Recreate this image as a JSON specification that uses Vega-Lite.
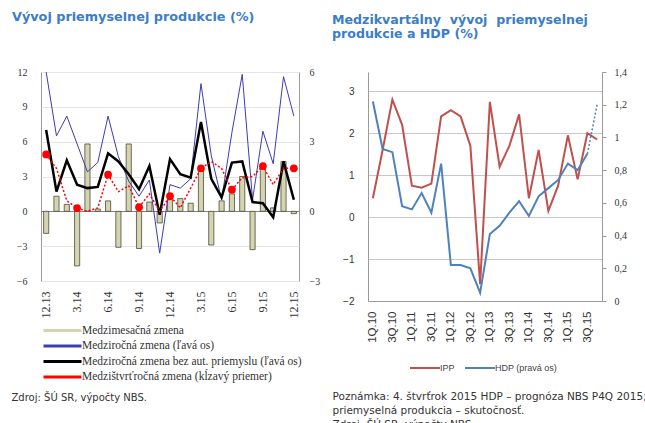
{
  "$schema": "https://vega.github.io/schema/vega-lite/v6.json",
  "padding": {"left": 10, "top": 10, "right": 0, "bottom": 0},
  "background": "white",
  "spacing": 11,
  "config": {"view": {"stroke": null}, "axis": {"labelFont": "Liberation Serif", "labelColor": "#333333", "domainColor": "#9a9a9a"}},
  "resolve": {"scale": {"color": "independent"}, "legend": {"color": "independent"}},
  "hconcat": [
    {
      "width": 258,
      "height": 209,
      "view": {"stroke": "#9a9a9a"},
      "title": {"text": "Vývoj priemyselnej produkcie (%)", "anchor": "start", "frame": "group", "dx": -29, "offset": 43, "font": "DejaVu Sans", "fontSize": 12.8, "fontWeight": "bold", "color": "#3a7dc9"},
      "data": {"values": [
        {"m": "12.13", "mom": -0.95, "yoy": 12.0, "yoyx": 7.0, "qoq": 2.45},
        {"m": "1.14", "mom": 0.65, "yoy": 6.5, "yoyx": 1.7, "qoq": 1.85},
        {"m": "2.14", "mom": 0.3, "yoy": 8.2, "yoyx": 4.4, "qoq": 0.45},
        {"m": "3.14", "mom": -2.35, "yoy": 5.8, "yoyx": 2.3, "qoq": 0.14},
        {"m": "4.14", "mom": 2.9, "yoy": 3.4, "yoyx": 2.0, "qoq": 0.0},
        {"m": "5.14", "mom": 0.1, "yoy": 4.2, "yoyx": 2.1, "qoq": 0.15},
        {"m": "6.14", "mom": 0.45, "yoy": 8.2, "yoyx": 5.0, "qoq": 1.58},
        {"m": "7.14", "mom": -1.55, "yoy": 4.7, "yoyx": 4.3, "qoq": 0.85},
        {"m": "8.14", "mom": 2.9, "yoy": 2.6, "yoyx": 3.2, "qoq": 1.1},
        {"m": "9.14", "mom": -1.6, "yoy": 1.3, "yoyx": 1.9, "qoq": 0.18},
        {"m": "10.14", "mom": 0.4, "yoy": 2.7, "yoyx": 3.9, "qoq": 0.75},
        {"m": "11.14", "mom": -0.5, "yoy": -3.6, "yoyx": -0.3, "qoq": 0.0},
        {"m": "12.14", "mom": 0.5, "yoy": 2.3, "yoyx": 4.5, "qoq": 0.65},
        {"m": "1.15", "mom": 0.55, "yoy": 2.0, "yoyx": 3.2, "qoq": 0.15},
        {"m": "2.15", "mom": 0.35, "yoy": 2.8, "yoyx": 2.9, "qoq": 1.0},
        {"m": "3.15", "mom": 1.8, "yoy": 11.0, "yoyx": 7.7, "qoq": 1.85},
        {"m": "4.15", "mom": -1.45, "yoy": 4.8, "yoyx": 2.8, "qoq": 2.15},
        {"m": "5.15", "mom": 0.45, "yoy": 1.0, "yoyx": 1.2, "qoq": 1.85},
        {"m": "6.15", "mom": 0.75, "yoy": 6.8, "yoyx": 4.2, "qoq": 0.93},
        {"m": "7.15", "mom": 1.5, "yoy": 11.8, "yoyx": 4.3, "qoq": 1.45},
        {"m": "8.15", "mom": -1.65, "yoy": 1.0, "yoyx": 0.8, "qoq": 1.5},
        {"m": "9.15", "mom": 1.85, "yoy": 6.9, "yoyx": 0.7, "qoq": 1.95},
        {"m": "10.15", "mom": 0.15, "yoy": 4.1, "yoyx": -0.5, "qoq": 1.15},
        {"m": "11.15", "mom": 2.15, "yoy": 11.6, "yoyx": 4.3, "qoq": 1.85},
        {"m": "12.15", "mom": -0.1, "yoy": 8.2, "yoyx": 1.0, "qoq": 1.85}
      ]},
      "layer": [
        {
          "mark": {"type": "bar", "width": {"band": 0.5}, "stroke": "#4b4b3c", "strokeWidth": 0.8, "color": "#d4d4b0"},
          "encoding": {
            "x": {"field": "m", "type": "ordinal", "sort": null, "scale": {"paddingInner": 0, "paddingOuter": 0},
              "axis": {"values": ["12.13", "3.14", "6.14", "9.14", "12.14", "3.15", "6.15", "9.15", "12.15"], "labelAngle": -90, "labelFontSize": 12, "labelPadding": 10, "ticks": false, "domain": false,
                "title": "Zdroj: ŠÚ SR, výpočty NBS.", "titleX": -30, "titleY": 116, "titleAlign": "left", "titleBaseline": "middle", "titleFont": "DejaVu Sans", "titleFontSize": 10, "titleFontWeight": "normal", "titleColor": "#333333"}},
            "y": {"field": "mom", "type": "quantitative", "scale": {"domain": [-3, 6], "nice": false},
              "axis": {"orient": "right", "values": [-3, 0, 3, 6], "grid": false, "ticks": false, "domain": false, "labelFontSize": 10, "labelPadding": 10, "title": null}}
          }
        },
        {
          "mark": {"type": "line", "strokeWidth": 1, "color": "#3c3cb4"},
          "encoding": {
            "x": {"field": "m", "type": "ordinal", "sort": null},
            "y": {"field": "yoy", "type": "quantitative", "scale": {"domain": [-6, 12], "nice": false},
              "axis": {"orient": "left", "values": [-6, -3, 0, 3, 6, 9, 12], "grid": true, "gridColor": {"condition": {"test": "datum.value === 0", "value": "#808080"}, "value": "#e6e6e6"}, "ticks": false, "domain": false, "labelFontSize": 10, "labelPadding": 14, "title": null}}
          }
        },
        {
          "mark": {"type": "line", "strokeWidth": 2.5, "color": "#000000"},
          "encoding": {
            "x": {"field": "m", "type": "ordinal", "sort": null},
            "y": {"field": "yoyx", "type": "quantitative", "scale": {"domain": [-6, 12], "nice": false}, "axis": null}
          }
        },
        {
          "mark": {"type": "line", "strokeWidth": 1.5, "strokeDash": [2, 2], "color": "#ff0000"},
          "encoding": {
            "x": {"field": "m", "type": "ordinal", "sort": null},
            "y": {"field": "qoq", "type": "quantitative", "scale": {"domain": [-3, 6], "nice": false}, "axis": null}
          }
        },
        {
          "transform": [{"filter": {"field": "m", "oneOf": ["12.13", "3.14", "6.14", "9.14", "12.14", "3.15", "6.15", "9.15", "12.15"]}}],
          "mark": {"type": "point", "filled": true, "size": 60, "opacity": 1, "color": "#ff0000"},
          "encoding": {
            "x": {"field": "m", "type": "ordinal", "sort": null},
            "y": {"field": "qoq", "type": "quantitative", "scale": {"domain": [-3, 6], "nice": false}, "axis": null}
          }
        },
        {
          "transform": [{"fold": ["mom", "yoy", "yoyx", "qoq"], "as": ["s", "v"]}],
          "mark": {"type": "line", "opacity": 0},
          "encoding": {
            "x": {"field": "m", "type": "ordinal", "sort": null},
            "y": {"field": "v", "type": "quantitative", "scale": {"domain": [-6, 12], "nice": false}, "axis": null},
            "color": {"field": "s", "type": "nominal",
              "scale": {"domain": ["mom", "yoy", "yoyx", "qoq"], "range": ["#d4d4b0", "#3c3cb4", "#000000", "#ff0000"]},
              "legend": {"orient": "none", "legendX": 1, "legendY": 252, "direction": "vertical", "title": null, "symbolSize": 100, "symbolOffset": 14, "labelOffset": 13, "rowPadding": 2.5,
                "labelFont": "Liberation Serif", "labelFontSize": 11.5, "labelColor": "#333333", "labelLimit": 400,
                "labelExpr": "datum.value === 'mom' ? 'Medzimesačná zmena' : datum.value === 'yoy' ? 'Medziročná zmena (ľavá os)' : datum.value === 'yoyx' ? 'Medziročná zmena bez aut. priemyslu (ľavá os)' : 'Medzištvrťročná zmena (kĺzavý priemer)'",
                "encode": {"symbols": {"update": {
                  "shape": {"condition": [{"test": "datum.value === 'mom'", "value": "M-3.8,-0.55H3.8V0.55H-3.8Z"}, {"test": "datum.value === 'qoq'", "value": "M-3.8,0H3.8M-0.6,0A0.6,0.6 0 1,0 0.6,0A0.6,0.6 0 1,0 -0.6,0"}], "value": "M-3.8,0H3.8"},
                  "fill": {"condition": [{"test": "datum.value === 'mom'", "value": "#e6e6c8"}, {"test": "datum.value === 'qoq'", "value": "#ff0000"}], "value": "transparent"},
                  "stroke": {"condition": [{"test": "datum.value === 'mom'", "value": "#4b4b3c"}, {"test": "datum.value === 'yoy'", "value": "#6a6ad0"}, {"test": "datum.value === 'qoq'", "value": "#ff0000"}], "value": "#000000"},
                  "strokeWidth": {"condition": [{"test": "datum.value === 'mom'", "value": 1.2}, {"test": "datum.value === 'yoy'", "value": 1.2}, {"test": "datum.value === 'qoq'", "value": 1.5}], "value": 3},
                  "strokeDash": {"condition": [{"test": "datum.value === 'qoq'", "value": [2, 2]}], "value": [1, 0]},
                  "opacity": {"value": 1}
                }}}}}
          }
        }
      ],
      "resolve": {"scale": {"y": "independent"}}
    },
    {
      "width": 234,
      "height": 229,
      "title": {"text": ["Medzikvartálny\u00a0\u00a0vývoj\u00a0\u00a0priemyselnej", "produkcie a HDP (%)"], "anchor": "start", "frame": "group", "dx": -36, "offset": 26, "lineHeight": 14, "font": "DejaVu Sans", "fontSize": 12.6, "fontWeight": "bold", "color": "#3a7dc9"},
      "data": {"values": [
        {"q": "1Q.10", "ipp": 0.45, "hdp": 1.22},
        {"q": "2Q.10", "ipp": 1.6, "hdp": 0.93},
        {"q": "3Q.10", "ipp": 2.8, "hdp": 0.91},
        {"q": "4Q.10", "ipp": 2.2, "hdp": 0.58},
        {"q": "1Q.11", "ipp": 0.75, "hdp": 0.56},
        {"q": "2Q.11", "ipp": 0.7, "hdp": 0.66},
        {"q": "3Q.11", "ipp": 0.8, "hdp": 0.54},
        {"q": "4Q.11", "ipp": 2.4, "hdp": 0.84},
        {"q": "1Q.12", "ipp": 2.55, "hdp": 0.22},
        {"q": "2Q.12", "ipp": 2.4, "hdp": 0.22},
        {"q": "3Q.12", "ipp": 1.7, "hdp": 0.2},
        {"q": "4Q.12", "ipp": -1.6, "hdp": 0.05},
        {"q": "1Q.13", "ipp": 2.75, "hdp": 0.41},
        {"q": "2Q.13", "ipp": 1.2, "hdp": 0.46},
        {"q": "3Q.13", "ipp": 1.7, "hdp": 0.54},
        {"q": "4Q.13", "ipp": 2.45, "hdp": 0.61},
        {"q": "1Q.14", "ipp": 0.45, "hdp": 0.52},
        {"q": "2Q.14", "ipp": 1.6, "hdp": 0.64},
        {"q": "3Q.14", "ipp": 0.15, "hdp": 0.69},
        {"q": "4Q.14", "ipp": 0.75, "hdp": 0.74},
        {"q": "1Q.15", "ipp": 1.95, "hdp": 0.84},
        {"q": "2Q.15", "ipp": 0.9, "hdp": 0.8},
        {"q": "3Q.15", "ipp": 2.0, "hdp": 0.9, "hdpf": 0.9},
        {"q": "4Q.15", "ipp": 1.85, "hdp": null, "hdpf": 1.2}
      ]},
      "layer": [
        {
          "mark": {"type": "line", "strokeWidth": 2},
          "encoding": {
            "x": {"field": "q", "type": "ordinal", "sort": null, "scale": {"paddingInner": 0, "paddingOuter": 0},
              "axis": {"values": ["1Q.10", "3Q.10", "1Q.11", "3Q.11", "1Q.12", "3Q.12", "1Q.13", "3Q.13", "1Q.14", "3Q.14", "1Q.15", "3Q.15"], "labelAngle": -90, "labelFont": "Liberation Sans", "labelFontSize": 11.5, "labelPadding": 10, "ticks": false, "domain": true,
                "title": ["Poznámka: 4. štvrťrok 2015 HDP – prognóza NBS P4Q 2015;", "priemyselná produkcia – skutočnosť.", "Zdroj: ŠÚ SR, výpočty NBS."], "titleX": -36, "titleY": 90, "titleAlign": "left", "titleBaseline": "top", "titleLineHeight": 14, "titleFont": "DejaVu Sans", "titleFontSize": 10.5, "titleFontWeight": "normal", "titleColor": "#333333"}},
            "y": {"field": "ipp", "type": "quantitative", "scale": {"domain": [-2, 3.46], "nice": false},
              "axis": {"orient": "left", "values": [-2, -1, 0, 1, 2, 3], "grid": true, "gridColor": "#c8c8c8", "ticks": false, "domain": true, "labelFont": "Liberation Sans", "labelFontSize": 10, "labelPadding": 14, "title": null}},
            "color": {"datum": "IPP", "scale": {"domain": ["IPP", "HDP (pravá os)"], "range": ["#c0504d", "#4f81bd"]},
              "legend": {"orient": "none", "legendX": 41, "legendY": 290, "direction": "horizontal", "title": null, "symbolSize": 100, "symbolOffset": 10, "labelOffset": 9, "columnPadding": 6,
                "labelFont": "Liberation Sans", "labelFontSize": 9, "labelColor": "#444444",
                "encode": {"symbols": {"update": {"shape": {"value": "M-3,0H3"}, "strokeWidth": {"value": 2}, "fill": {"value": "transparent"}, "opacity": {"value": 1}}}}}}
          }
        },
        {
          "mark": {"type": "line", "strokeWidth": 2},
          "encoding": {
            "x": {"field": "q", "type": "ordinal", "sort": null},
            "y": {"field": "hdp", "type": "quantitative", "scale": {"domain": [0, 1.4], "nice": false},
              "axis": {"orient": "right", "values": [0, 0.2, 0.4, 0.6, 0.8, 1, 1.2, 1.4], "labelExpr": "replace(format(datum.value, '.1~f'), '.', ',')", "grid": false, "ticks": true, "tickSize": 4, "tickColor": "#9a9a9a", "domain": true, "labelFont": "Liberation Serif", "labelFontSize": 10, "labelPadding": 8, "title": null}},
            "color": {"datum": "HDP (pravá os)"}
          }
        },
        {
          "mark": {"type": "line", "strokeWidth": 1.5, "strokeDash": [2, 2], "color": "#4f81bd"},
          "encoding": {
            "x": {"field": "q", "type": "ordinal", "sort": null},
            "y": {"field": "hdpf", "type": "quantitative", "scale": {"domain": [0, 1.4], "nice": false}, "axis": null}
          }
        }
      ],
      "resolve": {"scale": {"y": "independent"}}
    }
  ]
}
